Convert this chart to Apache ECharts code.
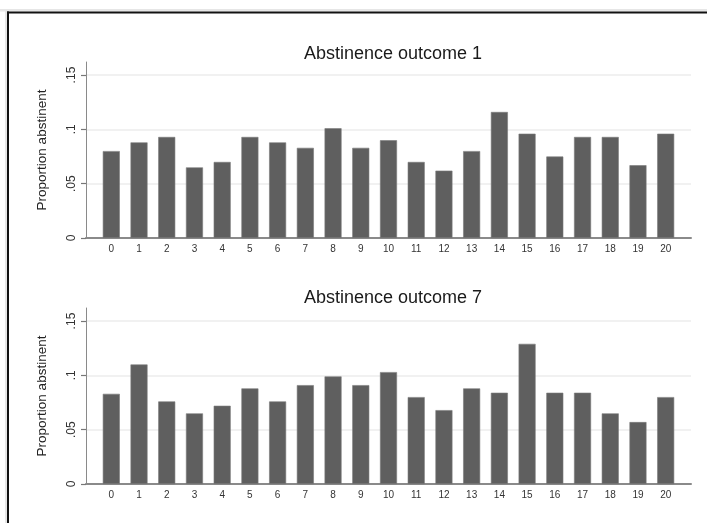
<!DOCTYPE html>
<html>
<head>
<meta charset="utf-8">
<script src="https://cdn.jsdelivr.net/npm/echarts@6/dist/echarts.min.js"></script>
<style>
  html, body { margin: 0; padding: 0; background: #fff; }
  #chart { width: 707px; height: 523px; }
</style>
</head>
<body>
<div id="chart"></div>
<script>
// Weeks 0..20 on the horizontal axis
const weeks = ['0','1','2','3','4','5','6','7','8','9','10','11','12','13','14','15','16','17','18','19','20'];
// Proportion abstinent per week, outcome 1
const outcome1 = [0.080, 0.088, 0.093, 0.065, 0.070, 0.093, 0.088, 0.083, 0.101, 0.083, 0.090,
                  0.070, 0.062, 0.080, 0.116, 0.096, 0.075, 0.093, 0.093, 0.067, 0.096];
// Proportion abstinent per week, outcome 7
const outcome7 = [0.083, 0.110, 0.076, 0.065, 0.072, 0.088, 0.076, 0.091, 0.099, 0.091, 0.103,
                  0.080, 0.068, 0.088, 0.084, 0.129, 0.084, 0.084, 0.065, 0.057, 0.080];
const panelTitles = ['Abstinence outcome 1', 'Abstinence outcome 7'];
const yTickValues = [0, 0.05, 0.1, 0.15];
const yTickLabels = ['0', '.05', '.1', '.15'];
const yTitle = 'Proportion abstinent';

const FONT = '"Liberation Sans", Arial, sans-serif';
const BAR = '#5f5f5f';
const AXIS = '#8a8a8a';

function xAxisFor(gridIndex) {
  return {
    type: 'value', gridIndex,
    min: -0.913, max: 20.913,
    axisLine: { show: true, onZero: false, lineStyle: { color: AXIS, width: 2 } },
    axisTick: { show: false },
    splitLine: { show: false },
    axisLabel: {
      customValues: weeks.map((w, i) => i),
      formatter: v => weeks[Math.round(v)],
      fontFamily: FONT, fontSize: 10, color: '#333', margin: 6
    }
  };
}

function yAxisFor(gridIndex) {
  return {
    type: 'value', gridIndex,
    min: 0, max: 0.162,
    name: yTitle, nameLocation: 'middle', nameGap: 37,
    nameTextStyle: { fontFamily: FONT, fontSize: 13.5, color: '#222' },
    axisLine: { show: true, onZero: false, lineStyle: { color: AXIS, width: 1 } },
    axisTick: { show: true, customValues: yTickValues, length: 5, lineStyle: { color: '#777', width: 1.2 } },
    splitLine: { show: true, lineStyle: { color: '#ececec', width: 1.5 } },
    axisLabel: {
      customValues: yTickValues,
      rotate: 90,
      formatter: v => yTickLabels[yTickValues.findIndex(t => Math.abs(t - v) < 1e-9)] ?? '',
      fontFamily: FONT, fontSize: 12, color: '#333', margin: 8
    }
  };
}

function barSeries(idx, values) {
  return {
    type: 'bar', xAxisIndex: idx, yAxisIndex: idx,
    data: values.map((v, i) => [i, v]),
    barWidth: 17,
    itemStyle: { color: BAR, borderColor: '#7a7a7a', borderWidth: 0.6 },
    silent: true
  };
}

const chart = echarts.init(document.getElementById('chart'), null, { renderer: 'canvas' });
chart.setOption({
  animation: false,
  backgroundColor: '#fff',
  title: [
    { text: panelTitles[0], left: 388, top: 40.5, textAlign: 'center',
      textStyle: { fontFamily: FONT, fontSize: 18, fontWeight: 'normal', color: '#1a1a1a' } },
    { text: panelTitles[1], left: 388, top: 284, textAlign: 'center',
      textStyle: { fontFamily: FONT, fontSize: 18, fontWeight: 'normal', color: '#1a1a1a' } }
  ],
  grid: [
    { left: 86, right: 16, top: 62, height: 176 },
    { left: 86, right: 16, top: 308, height: 176 }
  ],
  xAxis: [xAxisFor(0), xAxisFor(1)],
  yAxis: [yAxisFor(0), yAxisFor(1)],
  series: [barSeries(0, outcome1), barSeries(1, outcome7)],
  graphic: [
    { type: 'rect', shape: { x: 0, y: 9, width: 707, height: 2.5 }, style: { fill: '#e6e6e6' }, silent: true },
    { type: 'rect', shape: { x: 5, y: 9, width: 2.5, height: 514 }, style: { fill: '#e6e6e6' }, silent: true },
    { type: 'rect', shape: { x: 7, y: 11.5, width: 700, height: 2 }, style: { fill: '#111' }, silent: true },
    { type: 'rect', shape: { x: 7, y: 11.5, width: 2, height: 512 }, style: { fill: '#111' }, silent: true }
  ]
});
</script>
</body>
</html>
